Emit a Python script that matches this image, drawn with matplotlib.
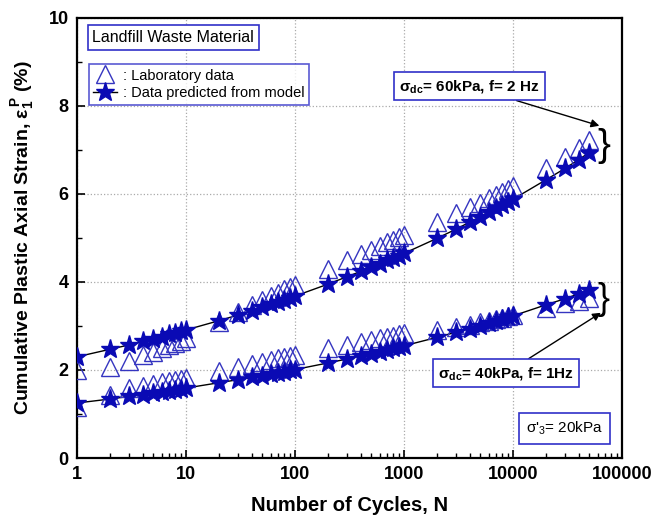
import numpy as np
import matplotlib
matplotlib.use('Agg')
import matplotlib.pyplot as plt
from matplotlib.lines import Line2D
from matplotlib.ticker import LogLocator, FixedLocator, FixedFormatter, MultipleLocator

plt.rcParams['font.family'] = ['Liberation Sans', 'DejaVu Sans']
plt.rcParams['mathtext.fontset'] = 'custom'
plt.rcParams['mathtext.rm'] = 'Liberation Sans'
plt.rcParams['mathtext.bf'] = 'Liberation Sans:bold'
plt.rcParams['mathtext.it'] = 'Liberation Sans:italic'

# number of cycles
cycles = [1, 2, 3, 4, 5, 6, 7, 8, 9, 10,
          20, 30, 40, 50, 60, 70, 80, 90, 100,
          200, 300, 400, 500, 600, 700, 800, 900, 1000,
          2000, 3000, 4000, 5000, 6000, 7000, 8000, 9000, 10000,
          20000, 30000, 40000, 50000]

# sigma_dc = 60 kPa, f = 2 Hz
lab_60 = [2.00, 2.07, 2.20, 2.33, 2.42, 2.50, 2.56, 2.62, 2.67, 2.72,
          3.10, 3.32, 3.47, 3.59, 3.68, 3.76, 3.83, 3.88, 3.93,
          4.30, 4.50, 4.63, 4.73, 4.82, 4.90, 4.96, 5.02, 5.07,
          5.36, 5.57, 5.70, 5.80, 5.90, 5.98, 6.05, 6.12, 6.18,
          6.60, 6.85, 7.05, 7.22]
model_60 = [2.30, 2.47, 2.57, 2.65, 2.71, 2.76, 2.81, 2.84, 2.88, 2.91,
            3.12, 3.25, 3.35, 3.43, 3.49, 3.55, 3.60, 3.64, 3.68,
            3.95, 4.12, 4.24, 4.34, 4.42, 4.49, 4.55, 4.60, 4.65,
            4.99, 5.20, 5.36, 5.48, 5.59, 5.67, 5.75, 5.82, 5.88,
            6.32, 6.58, 6.78, 6.94]

# sigma_dc = 40 kPa, f = 1 Hz
lab_40 = [1.15, 1.43, 1.58, 1.63, 1.68, 1.72, 1.75, 1.78, 1.80, 1.82,
          1.98, 2.07, 2.14, 2.19, 2.23, 2.27, 2.30, 2.32, 2.35,
          2.50, 2.57, 2.63, 2.68, 2.72, 2.75, 2.78, 2.81, 2.84,
          2.90, 2.98, 3.03, 3.08, 3.12, 3.16, 3.19, 3.22, 3.25,
          3.40, 3.52, 3.57, 3.63]
model_40 = [1.25, 1.34, 1.40, 1.44, 1.48, 1.51, 1.53, 1.55, 1.57, 1.59,
            1.71, 1.78, 1.83, 1.87, 1.91, 1.94, 1.96, 1.99, 2.01,
            2.16, 2.25, 2.32, 2.37, 2.42, 2.46, 2.49, 2.52, 2.55,
            2.74, 2.86, 2.94, 3.01, 3.07, 3.12, 3.16, 3.20, 3.23,
            3.48, 3.62, 3.73, 3.82]

xticks = [1, 10, 100, 1000, 10000, 100000]
xticklabels = ['1', '10', '100', '1000', '10000', '100000']

tri_color = '#3535c0'
star_color = '#0a0ab4'
box_color = '#3030c8'

fig = plt.figure(figsize=(6.53, 5.22), dpi=100)
ax = fig.add_axes([0.118, 0.1226, 0.8345, 0.843])

for lab, model in [(lab_60, model_60), (lab_40, model_40)]:
    ax.plot(cycles, lab, linestyle='none', marker='^', markersize=13,
            markerfacecolor='none', markeredgecolor=tri_color, markeredgewidth=1.0, zorder=3)
    ax.plot(cycles, model, color='black', linewidth=1.0, zorder=2)
    ax.plot(cycles, model, linestyle='none', marker='*', markersize=14,
            color=star_color, zorder=4)

ax.set_xscale('log')
ax.set_xlim(1, 100000)
ax.set_ylim(0, 10)
ax.xaxis.set_major_locator(FixedLocator(xticks))
ax.xaxis.set_major_formatter(FixedFormatter(xticklabels))
ax.xaxis.set_minor_locator(LogLocator(base=10, subs=np.arange(2, 10)))
ax.xaxis.set_minor_formatter(plt.NullFormatter())
ax.yaxis.set_major_locator(MultipleLocator(2))
ax.yaxis.set_minor_locator(MultipleLocator(1))

ax.tick_params(which='both', direction='in', top=False, right=False)
ax.tick_params(which='major', length=6, width=1.2, labelsize=13, pad=6)
ax.tick_params(which='minor', length=3.5, width=1.0)
for lbl in ax.get_xticklabels() + ax.get_yticklabels():
    lbl.set_fontweight('bold')
for sp in ax.spines.values():
    sp.set_linewidth(1.6)

ax.grid(True, which='major', linestyle=':', color='#aaaaaa', linewidth=0.9)

ax.set_xlabel('Number of Cycles, N', fontsize=14.5, fontweight='bold', labelpad=9)
ax.set_ylabel(r'Cumulative Plastic Axial Strain, $\mathregular{\varepsilon_1^{\,P}}$ (%)',
              fontsize=14, fontweight='bold', labelpad=9)

# title box
ax.text(0.028, 0.955, 'Landfill Waste Material', transform=ax.transAxes, fontsize=11.5,
        va='center', ha='left',
        bbox=dict(boxstyle='square,pad=0.3', facecolor='white', edgecolor=box_color, linewidth=1.2))

# legend
handles = [Line2D([], [], linestyle='none', marker='^', markersize=13, markerfacecolor='none',
                  markeredgecolor=tri_color, markeredgewidth=1.0),
           Line2D([], [], color='black', linewidth=1.0, marker='*', markersize=14,
                  markerfacecolor=star_color, markeredgecolor=star_color)]
leg = ax.legend(handles, [': Laboratory data', ': Data predicted from model'],
                loc='upper left', bbox_to_anchor=(0.022, 0.895), fontsize=10.5,
                frameon=True, fancybox=False, handlelength=1.6, handletextpad=0.4,
                borderpad=0.3, labelspacing=0.25, borderaxespad=0)
leg.get_frame().set_edgecolor(box_color)
leg.get_frame().set_linewidth(1.2)

# condition annotations
bbox_b = dict(boxstyle='square,pad=0.35', facecolor='white', edgecolor=box_color, linewidth=1.2)
ax.annotate(r'$\mathregular{\sigma_{\mathbf{dc}}}$= 60kPa, f= 2 Hz', xy=(62000, 7.55),
            xytext=(900, 8.45), textcoords='data', fontsize=11, fontweight='bold',
            ha='left', va='center', bbox=bbox_b,
            arrowprops=dict(arrowstyle='-|>', color='black', lw=1.0, mutation_scale=12,
                            shrinkA=0, shrinkB=0))
ax.annotate(r'$\mathregular{\sigma_{\mathbf{dc}}}$= 40kPa, f= 1Hz', xy=(64000, 3.3),
            xytext=(2050, 1.93), textcoords='data', fontsize=11, fontweight='bold',
            ha='left', va='center', bbox=bbox_b,
            arrowprops=dict(arrowstyle='-|>', color='black', lw=1.0, mutation_scale=12,
                            shrinkA=0, shrinkB=0))

ax.text(60000, 7.1, '}', fontsize=28, ha='left', va='center', fontweight='light')
ax.text(60000, 3.6, '}', fontsize=26, ha='left', va='center', fontweight='light')

ax.text(0.965, 0.068, "σ'$_\\mathregular{3}$= 20kPa", transform=ax.transAxes, fontsize=11,
        ha='right', va='center',
        bbox=dict(boxstyle='square,pad=0.45', facecolor='white', edgecolor=box_color, linewidth=1.2))

fig.savefig('out.png', dpi=100)
